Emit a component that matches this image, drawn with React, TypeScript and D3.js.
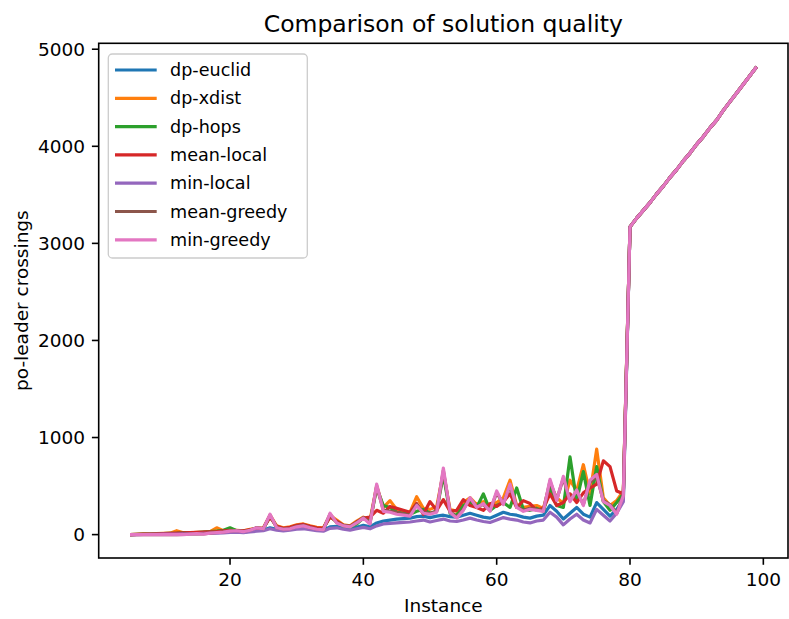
import React, { useEffect, useRef } from "react";
import * as d3 from "d3";

// instances 5..99
const instances: number[] = d3.range(5, 100);

// values for instances 5..79 (below the jump)
const dpEuclid = [
  0, 1, 2, 3, 4, 5, 6, 8, 10, 12, 14, 16, 18, 20, 24,
  28, 30, 26, 35, 42, 48, 70, 55, 45, 55, 65, 70, 60, 50, 45,
  80, 85, 70, 60, 75, 95, 80, 120, 140, 150, 160, 165, 170, 185, 190,
  175, 190, 200, 185, 180, 200, 220, 200, 180, 170, 200, 230, 210, 200, 180,
  170, 190, 200, 300, 240, 160, 220, 280, 210, 180, 330, 260, 190, 260, 360,
];
const dpXdist = [
  0, 3, 5, 8, 10, 12, 15, 40, 20, 18, 22, 25, 30, 70, 40,
  50, 45, 40, 55, 65, 70, 200, 90, 70, 80, 100, 110, 90, 75, 70,
  200, 150, 100, 90, 140, 180, 150, 500, 280, 350, 260, 240, 230, 390, 270,
  260, 290, 640, 260, 240, 330, 380, 310, 340, 300, 330, 380, 560, 300, 280,
  290, 300, 270, 520, 380, 320, 560, 450, 720, 420, 880, 380, 300, 350, 450,
];
const dpHops = [
  0, 2, 4, 5, 8, 10, 12, 15, 20, 18, 20, 25, 30, 35, 45,
  70, 40, 35, 45, 55, 60, 190, 80, 60, 70, 90, 100, 80, 65, 60,
  190, 130, 90, 80, 110, 170, 130, 480, 300, 280, 230, 220, 210, 240, 260,
  220, 240, 620, 220, 200, 300, 330, 280, 420, 250, 300, 330, 280, 480, 260,
  250, 270, 240, 480, 300, 280, 800, 350, 650, 300, 700, 340, 250, 330, 420,
];
const meanLocal = [
  0, 2, 4, 6, 8, 10, 12, 15, 18, 20, 22, 25, 28, 32, 38,
  45, 40, 38, 50, 60, 65, 180, 85, 65, 75, 95, 105, 85, 70, 65,
  180, 140, 95, 85, 130, 170, 180, 250, 220, 290, 270, 250, 230, 320, 210,
  340, 250, 360, 240, 250, 360, 300, 280, 250, 320, 290, 340, 420, 280, 350,
  320, 250, 270, 420, 300, 330, 420, 330, 430, 480, 520, 760, 700, 450, 420,
];
const minLocal = [
  0, 0, 1, 2, 3, 4, 5, 6, 8, 9, 10, 12, 14, 15, 18,
  22, 25, 20, 28, 35, 40, 60, 45, 38, 45, 55, 60, 50, 40, 35,
  65, 70, 55, 45, 60, 75, 60, 90, 110, 115, 120, 125, 130, 140, 150,
  130, 145, 160, 140, 135, 150, 170, 150, 135, 125, 150, 175, 160, 150, 130,
  120, 140, 150, 230, 180, 100, 160, 210, 150, 120, 260, 200, 140, 220, 340,
];
const meanGreedy = [
  0, 0, 0, 0, 0, 0, 0, 0, 2, 6, 10, 8, 15, 22, 28,
  38, 42, 32, 48, 72, 62, 200, 72, 58, 62, 85, 95, 72, 58, 55,
  210, 125, 95, 85, 125, 175, 120, 500, 250, 240, 230, 215, 200, 310, 230,
  220, 240, 660, 235, 180, 260, 370, 290, 310, 250, 430, 320, 500, 290, 250,
  270, 260, 250, 550, 360, 580, 350, 450, 310, 540, 600, 350, 310, 220, 410,
];
const minGreedy = [
  0, 0, 0, 0, 0, 0, 0, 0, 0, 5, 10, 5, 15, 20, 25,
  35, 40, 30, 45, 70, 60, 210, 70, 55, 60, 80, 90, 70, 55, 50,
  220, 120, 90, 80, 120, 170, 110, 520, 240, 230, 210, 200, 190, 300, 220,
  210, 230, 685, 230, 170, 250, 380, 280, 320, 240, 450, 310, 520, 280, 240,
  260, 250, 240, 570, 350, 600, 340, 460, 300, 560, 620, 340, 300, 210, 400,
];
// instances 80..99: every method gives the same result
const largeInstances = [
  3170, 3260, 3340, 3420, 3510, 3590, 3680, 3760, 3850, 3930,
  4020, 4100, 4190, 4270, 4370, 4460, 4550, 4640, 4730, 4820,
];

const seriesNames = [
  "dp-euclid", "dp-xdist", "dp-hops", "mean-local",
  "min-local", "mean-greedy", "min-greedy",
];
const seriesValues = [
  dpEuclid, dpXdist, dpHops, meanLocal, minLocal, meanGreedy, minGreedy,
].map((v) => v.concat(largeInstances));

const xTicks = [20, 40, 60, 80, 100];
const yTicks = [0, 1000, 2000, 3000, 4000, 5000];

const W = 789;
const H = 619;
const FONT = "DejaVu Sans, sans-serif";

const App = () => {
  const svgRef = useRef<SVGSVGElement>(null);

  useEffect(() => {
    document.body.style.margin = "0";
    const svg = d3.select(svgRef.current);
    svg.selectAll("*").remove();

    const left = 98.7, right = 788, top = 43.3, bottom = 558;

    // matplotlib-like 5% margins
    const allY = seriesValues.flat();
    const yMin = d3.min(allY)!, yMax = d3.max(allY)!;
    const yPad = (yMax - yMin) * 0.05;
    const xPad = (99 - 5) * 0.05;

    const x = d3.scaleLinear().domain([5 - xPad, 99 + xPad]).range([left, right]);
    const y = d3.scaleLinear().domain([yMin - yPad, yMax + yPad]).range([bottom, top]);

    const color = d3.scaleOrdinal<string>().domain(seriesNames).range(d3.schemeCategory10);

    svg.append("rect").attr("width", W).attr("height", H).attr("fill", "#fff");

    const line = d3
      .line<number>()
      .x((_, i) => x(instances[i]))
      .y((d) => y(d));

    const plot = svg.append("g");
    seriesNames.forEach((name, k) => {
      plot
        .append("path")
        .attr("d", line(seriesValues[k]))
        .attr("fill", "none")
        .attr("stroke", color(name))
        .attr("stroke-width", 3.2)
        .attr("stroke-linejoin", "round");
    });

    // frame
    svg
      .append("rect")
      .attr("x", left)
      .attr("y", top)
      .attr("width", right - left)
      .attr("height", bottom - top)
      .attr("fill", "none")
      .attr("stroke", "#000")
      .attr("stroke-width", 1.6);

    // x ticks
    const xg = svg.append("g");
    xTicks.forEach((t) => {
      xg.append("line")
        .attr("x1", x(t)).attr("x2", x(t))
        .attr("y1", bottom).attr("y2", bottom + 6.8)
        .attr("stroke", "#000").attr("stroke-width", 1.6);
      xg.append("text")
        .attr("x", x(t)).attr("y", bottom + 13.6)
        .attr("dy", "0.76em")
        .attr("text-anchor", "middle")
        .attr("font-family", FONT).attr("font-size", 18.5)
        .text(t);
    });

    // y ticks
    const yg = svg.append("g");
    yTicks.forEach((t) => {
      yg.append("line")
        .attr("x1", left - 6.8).attr("x2", left)
        .attr("y1", y(t)).attr("y2", y(t))
        .attr("stroke", "#000").attr("stroke-width", 1.6);
      yg.append("text")
        .attr("x", left - 13.6).attr("y", y(t))
        .attr("dy", "0.36em")
        .attr("text-anchor", "end")
        .attr("font-family", FONT).attr("font-size", 18.5)
        .text(t);
    });

    // title and axis labels
    svg.append("text")
      .attr("x", (left + right) / 2).attr("y", top - 11.6)
      .attr("text-anchor", "middle")
      .attr("font-family", FONT).attr("font-size", 23.5)
      .text("Comparison of solution quality");

    svg.append("text")
      .attr("x", (left + right) / 2).attr("y", 598)
      .attr("dy", "0.76em")
      .attr("text-anchor", "middle")
      .attr("font-family", FONT).attr("font-size", 18.5)
      .text("Instance");

    svg.append("text")
      .attr("transform", `translate(21,${(top + bottom) / 2}) rotate(-90)`)
      .attr("dy", "0.36em")
      .attr("text-anchor", "middle")
      .attr("font-family", FONT).attr("font-size", 18.5)
      .text("po-leader crossings");

    // legend
    const lg = svg.append("g");
    lg.append("rect")
      .attr("x", 108.3).attr("y", 54)
      .attr("width", 199).attr("height", 204)
      .attr("rx", 4)
      .attr("fill", "#fff").attr("fill-opacity", 0.8)
      .attr("stroke", "#ccc").attr("stroke-width", 1.3);
    seriesNames.forEach((name, k) => {
      const cy = 70 + k * 28.3;
      lg.append("line")
        .attr("x1", 115).attr("x2", 156.7)
        .attr("y1", cy).attr("y2", cy)
        .attr("stroke", color(name)).attr("stroke-width", 3.2);
      lg.append("text")
        .attr("x", 170).attr("y", cy)
        .attr("dy", "0.35em")
        .attr("font-family", FONT).attr("font-size", 17.6)
        .text(name);
    });
  }, []);

  return <svg ref={svgRef} width={W} height={H} style={{ display: "block" }} />;
};

export default App;
